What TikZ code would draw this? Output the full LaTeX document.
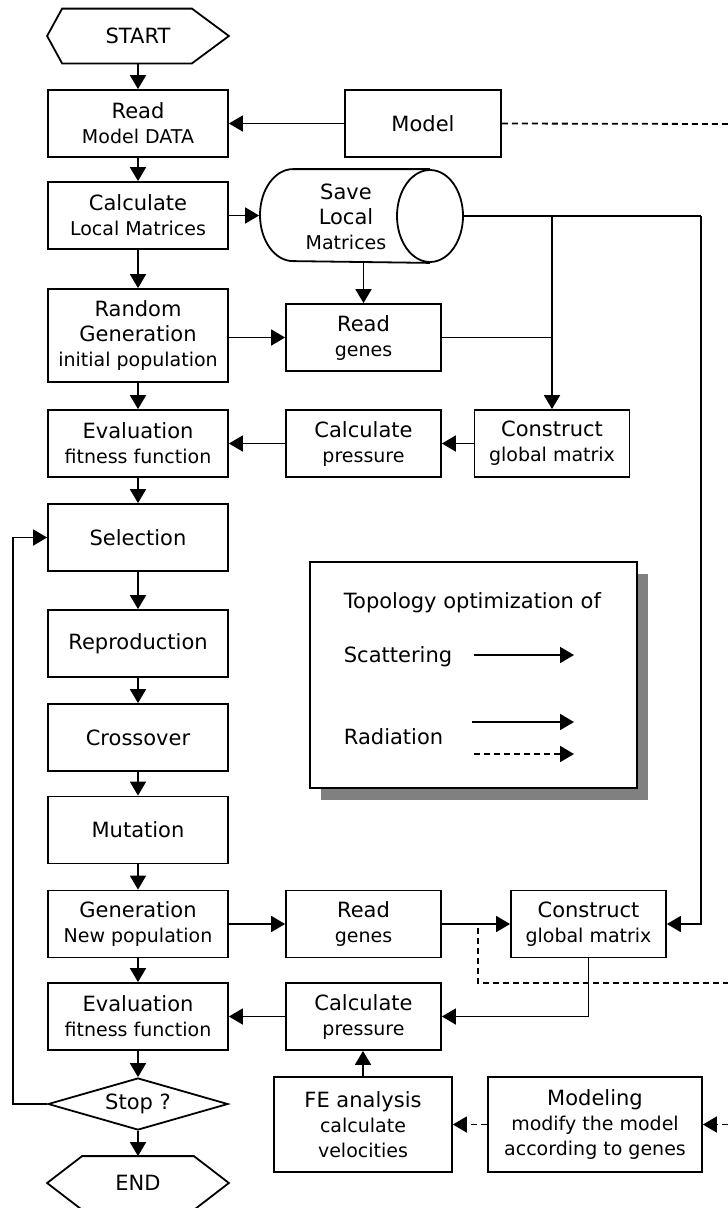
\documentclass[tikz,border=0pt]{standalone}
\usepackage{fontspec}
\setmainfont{DejaVu Sans}
\usepackage{tikz}
\usetikzlibrary{arrows.meta}
\usetikzlibrary{shapes.geometric}
\usetikzlibrary{shadows}

\newcommand{\headtxt}[1]{{\fontsize{21}{26}\selectfont #1}}

\begin{document}
\begin{tikzpicture}[x=1pt, y=-1pt, line width=1.8pt,
    every node/.style={font=\fontsize{19}{25}\selectfont, align=center, inner sep=0pt},
    box/.style={draw, rectangle, minimum width=180pt, minimum height=67pt},
    sbox/.style={draw, rectangle, minimum width=155pt, minimum height=67pt},
    term/.style={rectangle, minimum width=180pt, minimum height=53pt},
    arr/.style={-{Triangle[length=14pt, width=16pt]}},
    dline/.style={dash pattern=on 6pt off 4pt}]
        \useasboundingbox (0,0) rectangle (728,1208);

        % Main column
        \node[term] (startn) at (138,36) {\headtxt{START}};
        \node[box] (read) at (138,123.5) {\headtxt{Read}\\Model DATA};
        \node[box] (calc) at (138,215.5) {\headtxt{Calculate}\\Local Matrices};
        \node[box, minimum height=93pt] (random) at (138,335.5) {\headtxt{Random}\\\headtxt{Generation}\\initial population};
        \node[box] (eval) at (138,443.5) {\headtxt{Evaluation}\\fitness function};
        \node[box] (sel) at (138,537.5) {\headtxt{Selection}};
        \node[box] (repro) at (138,643.5) {\headtxt{Reproduction}};
        \node[box] (cross) at (138,737.5) {\headtxt{Crossover}};
        \node[box] (mut) at (138,830) {\headtxt{Mutation}};
        \node[box] (gen) at (138,924) {\headtxt{Generation}\\New population};
        \node[box] (eval2) at (138,1016.5) {\headtxt{Evaluation}\\fitness function};
        \node[draw, diamond, aspect=3.46, minimum width=180pt, minimum height=52pt] (stop) at (138,1104) {\headtxt{Stop ?}};
        \node[term, minimum height=52pt] (endn) at (138,1183) {\headtxt{END}};

        % Draw the hexagons round START and END
        \foreach \t/\l/\r in {startn/15/37, endn/35/35}
          \draw ([xshift=\l pt]\t.north west) -- ([xshift=-\r pt]\t.north east) -- (\t.east)
            -- ([xshift=-\r pt]\t.south east) -- ([xshift=\l pt]\t.south west) -- (\t.west) -- cycle;

        % Right hand side
        \node[draw, rectangle, minimum width=156pt, minimum height=67pt] (model) at (423,123.5) {\headtxt{Model}};
        \node[rectangle, minimum width=203pt, minimum height=92pt] (save) at (361.5,216) {};
        \node (savetxt) at (346,217) {\headtxt{Save}\\\headtxt{Local}\\Matrices};
        \node[sbox] (readg) at (363.5,337.5) {\headtxt{Read}\\genes};
        \node[sbox] (press) at (363.5,443.5) {\headtxt{Calculate}\\pressure};
        \node[sbox] (cons) at (552,443.5) {\headtxt{Construct}\\global matrix};
        \node[sbox] (readg2) at (363.5,924) {\headtxt{Read}\\genes};
        \node[sbox] (cons2) at (588.5,924) {\headtxt{Construct}\\global matrix};
        \node[sbox] (press2) at (363.5,1016.5) {\headtxt{Calculate}\\pressure};
        \node[draw, rectangle, minimum width=178pt, minimum height=95pt] (fe) at (363,1124.5) {\headtxt{FE analysis}\\calculate\\velocities};
        \node[draw, rectangle, minimum width=214pt, minimum height=95pt] (modl) at (595,1124.5) {\headtxt{Modeling}\\modify the model\\according to genes};

        % Draw the drum for the saved matrices
        \coordinate (ctl) at ([xshift=-68.5pt]save.north);
        \coordinate (ctr) at ([xshift=68.5pt]save.north);
        \coordinate (cbr) at ([xshift=68.5pt]save.south);
        \coordinate (cmid) at ([xshift=68.5pt]save.center);
        \draw (ctr) -- (ctl) arc[start angle=90, end angle=270, x radius=33pt, y radius=46pt] -- (cbr);
        \draw (cmid) ellipse [x radius=33pt, y radius=46pt];

        % Legend
        \node[draw, fill=white, minimum width=327pt, minimum height=226pt,
          drop shadow={shadow xshift=11pt, shadow yshift=-12pt, fill=black!50, opacity=1}] (legend) at (473.5,675) {};
        \node[anchor=west] (ltitle) at (343,603) {\headtxt{Topology optimization of}};
        \node[anchor=west] (lscat) at (343,657) {\headtxt{Scattering}};
        \node[anchor=west] (lrad) at (343,737) {\headtxt{Radiation}};
        \coordinate (s1) at (474,655);
        \coordinate (s2) at (574,655);
        \coordinate (r1) at (472,722);
        \coordinate (r2) at (574,722);
        \coordinate (d1) at (474,754);
        \coordinate (d2) at (574,754);
        \draw[arr] (s1) -- (s2);
        \draw[arr] (r1) -- (r2);
        \draw[arr, dline] (d1) -- (d2);

        % Helper points
        \coordinate (jm) at (552,216);
        \coordinate (jr) at (701,216);
        \coordinate (loopc) at (13,1104);
        \coordinate (mout) at (728,124);
        \coordinate (dsplit) at (478,928);
        \coordinate (dout) at (728,983);
        \coordinate (minc) at (728,1124.5);

        % Main flow
        \draw[arr] (startn) -- (read);
        \draw[arr] (read) -- (calc);
        \draw[arr] (calc) -- (random);
        \draw[arr] (random) -- (eval);
        \draw[arr] (eval) -- (sel);
        \draw[arr] (sel) -- (repro);
        \draw[arr] (repro) -- (cross);
        \draw[arr] (cross) -- (mut);
        \draw[arr] (mut) -- (gen);
        \draw[arr] (gen) -- (eval2);
        \draw[arr] (eval2) -- (stop);
        \draw[arr] (stop) -- (endn);
        \draw[arr] (stop.west) -- (loopc) |- (sel.west);

        % Side flow
        \draw[arr] (model) -- (read);
        \draw[dline] (model.east) -- (mout);
        \draw[arr] (calc.east) -- (calc.east -| save.west);
        \draw[arr] (save.south -| readg.north) -- (readg.north);
        \draw (cmid) ++(33pt,0) -- (jr);
        \draw[arr] (jm) -- (cons.north);
        \draw (readg.east) -- (readg.east -| jm);
        \draw[arr] (random.east |- readg.west) -- (readg.west);
        \draw[arr] (cons) -- (press);
        \draw[arr] (press) -- (eval);
        \draw[arr] (gen) -- (readg2);
        \draw[arr] (readg2) -- (cons2);
        \draw[arr] (jr) |- (cons2.east);
        \draw[dline] (dsplit) |- (dout);
        \draw[arr] (cons2.south) |- (press2.east);
        \draw[arr] (press2) -- (eval2);
        \draw[arr] (fe.north) -- (fe.north |- press2.south);
        \draw[arr, dline] (modl) -- (fe);
        \draw[arr, dline] (minc) -- (modl.east);
      \end{tikzpicture}
\end{document}
